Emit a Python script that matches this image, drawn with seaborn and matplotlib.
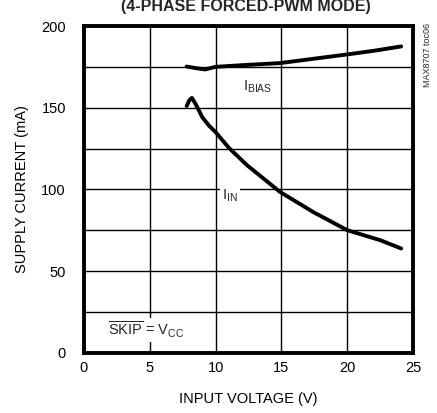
import matplotlib
matplotlib.use("Agg")
import matplotlib.pyplot as plt
import seaborn as sns
import pandas as pd
from matplotlib import font_manager

# data
bias_v = [7.8, 8.5, 9.2, 10.0, 12.0, 14.9, 17.5, 20.0, 22.0, 24.1]
bias_i = [175.2, 174.2, 173.4, 175.0, 176.0, 177.3, 180.0, 182.6, 184.8, 187.5]
in_v = [7.8, 8.0, 8.2, 8.5, 9.0, 9.5, 10.0, 11.0, 12.4, 14.9, 17.4, 20.0, 22.5, 24.1]
in_i = [151.0, 154.5, 156.0, 152.0, 144.0, 139.0, 135.0, 125.5, 114.7, 98.4, 86.2, 75.0, 68.9, 63.8]
x_ticks = [0, 5, 10, 15, 20, 25]
y_ticks = [0, 50, 100, 150, 200]

sns.set_theme(style="white")
names = {f.name for f in font_manager.fontManager.ttflist}
fam = "Liberation Sans Narrow" if "Liberation Sans Narrow" in names else "Liberation Sans"
plt.rcParams['font.family'] = [fam, 'DejaVu Sans']

fig = plt.figure(figsize=(4.37, 4.13), dpi=100)
ax = fig.add_axes([84/437, 1-352.7/413, (413-84)/437, (352.7-26)/413])

df_b = pd.DataFrame({"v": bias_v, "i": bias_i})
df_i = pd.DataFrame({"v": in_v, "i": in_i})
sns.lineplot(data=df_b, x="v", y="i", ax=ax, color="black", lw=2.8, sort=False)
sns.lineplot(data=df_i, x="v", y="i", ax=ax, color="black", lw=2.8, sort=False)

ax.set_xlim(0, 25)
ax.set_ylim(0, 200)
ax.set_xticks(range(0, 26, 5))
ax.set_yticks(range(0, 201, 25))
ax.set_yticklabels([str(t) if t in y_ticks else "" for t in range(0, 201, 25)])
ax.set_xticklabels([str(t) for t in x_ticks])
ax.grid(True, color="black", lw=1.0)
ax.set_axisbelow(True)
ax.tick_params(axis="y", length=0, labelsize=10.5, pad=13, colors="black")
ax.tick_params(axis="x", length=0, labelsize=10.5, pad=6, colors="black")
for s in ax.spines.values():
    s.set_color("black")
    s.set_linewidth(2.8)

ax.set_xlabel("INPUT VOLTAGE (V)", fontsize=10.5, color="black", labelpad=12)
ax.set_ylabel("SUPPLY CURRENT (mA)", fontsize=10.5, color="black", labelpad=9)

bbox = dict(facecolor="white", edgecolor="none", pad=1.5)
ax.text(13.2, 163, r"I$_{\mathregular{BIAS}}$", fontsize=10.5, ha="center", va="center", bbox=bbox)
ax.text(11.1, 96, r"I$_{\mathregular{IN}}$", fontsize=10.5, ha="center", va="center", bbox=bbox)
ax.text(1.8, 14, r"$\overline{\mathregular{SKIP}}$ = V$_{\mathregular{CC}}$", fontsize=10.5, ha="left", va="center", bbox=bbox)

fig.text(246/437, 1-11/413, "(4-PHASE FORCED-PWM MODE)", fontsize=11.5, fontweight="bold",
         ha="center", va="baseline")
fig.text(427/437, 1-55/413, "MAX8707 toc06", fontsize=6.5, rotation=90, ha="center", va="center")

fig.savefig("out.png", dpi=100)
